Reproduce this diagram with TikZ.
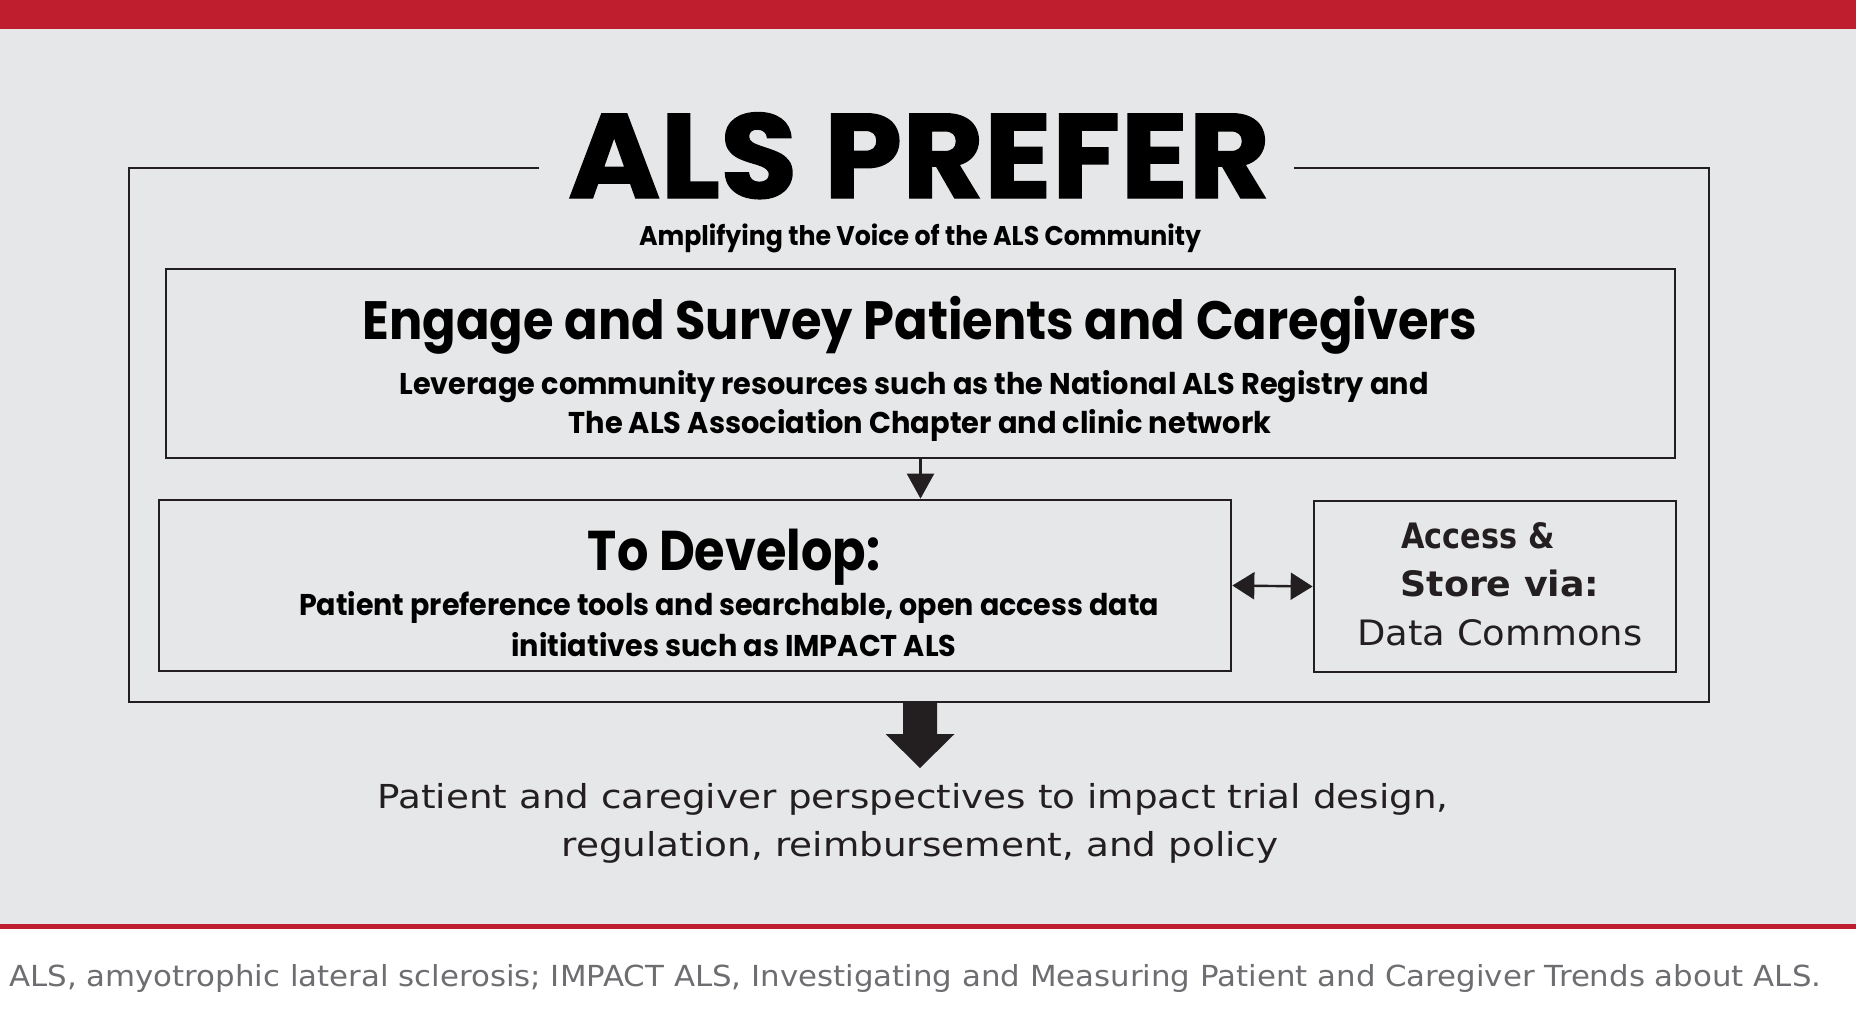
\documentclass[tikz,border=0pt]{standalone}
\usepackage{fontspec}
\usepackage{graphicx}
\usetikzlibrary{arrows.meta,calc}

\newfontfamily\geofont{Poppins}
\newfontfamily\heavyfont{Poppins}[BoldFeatures={FakeBold=1.2}]
\newfontfamily\humfont{DejaVu Sans}

\definecolor{alsred}{HTML}{BE1E2D}
\definecolor{panel}{HTML}{E6E7E8}
\definecolor{ink}{HTML}{231F20}
\definecolor{notegray}{HTML}{6D6E71}

% set a font size in pt (1pt = 1px in this picture)
\newcommand{\fs}[1]{\fontsize{#1pt}{#1pt}\selectfont}
% squeeze a line horizontally to a given width, keeping its height
\newcommand{\fitw}[2]{\resizebox{#1}{\height}{#2}}

\begin{document}
\begin{tikzpicture}[x=1pt,y=-1pt,
  frameline/.style={draw=ink,line width=2.7pt},
  stagebox/.style={draw=ink,line width=2.7pt,rectangle,inner sep=0pt},
  line/.style={inner sep=0pt,anchor=base,text=black},
  outline/.style={inner sep=0pt,anchor=base,text=ink},
  link/.style={draw=ink,line width=2.4pt},
  flowtip/.tip={Triangle[length=25pt,width=27pt]},
  sidetip/.tip={Triangle[length=22pt,width=27pt]},
]
\useasboundingbox (0,0) rectangle (1856,1009);

% page background: red band, grey panel, red rule, white footer
\fill[white] (0,0) rectangle (1856,1009);
\fill[panel] (0,29) rectangle (1856,924);
\fill[alsred] (0,0) rectangle (1856,29);
\fill[alsred] (0,924) rectangle (1856,929);

% title block
\node[line] (title) at (919,198)
  {\heavyfont\bfseries\fs{120}\fitw{702pt}{ALS PREFER}};
\node[line] (subtitle) at (920,245)
  {\geofont\bfseries\fs{27}\fitw{562pt}{Amplifying the Voice of the ALS Community}};

% outer frame, open where the title sits
\coordinate (gapL) at (539,168);
\coordinate (gapR) at (1294,168);
\coordinate (frameB) at (920,702);
\draw[frameline] (gapL) -- (129,168) -- (129,702) -- (1709,702) -- (1709,168) -- (gapR);

% stage boxes
\node[stagebox,minimum width=1509pt,minimum height=189pt] (engage) at (920.5,363.5) {};
\node[stagebox,minimum width=1072pt,minimum height=171pt] (develop) at (695,585.5) {};
\node[stagebox,minimum width=362pt,minimum height=171pt] (store) at (1495,586.5) {};

% engage box text
\node[line] (engageT) at (920,339)
  {\geofont\bfseries\fs{54}\fitw{1115pt}{Engage and Survey Patients and Caregivers}};
\node[line] (engageA) at (914,394)
  {\geofont\bfseries\fs{30}\fitw{1029pt}{Leverage community resources such as the National ALS Registry and}};
\node[line] (engageB) at (920,433)
  {\geofont\bfseries\fs{30}\fitw{703pt}{The ALS Association Chapter and clinic network}};

% develop box text
\node[line] (developT) at (734,570)
  {\geofont\bfseries\fs{56}\fitw{292pt}{To Develop:}};
\node[line] (developA) at (729,615)
  {\geofont\bfseries\fs{30}\fitw{860pt}{Patient preference tools and searchable, open access data}};
\node[line] (developB) at (734,656)
  {\geofont\bfseries\fs{30}\fitw{445pt}{initiatives such as IMPACT ALS}};

% store box text
\node[outline] (storeA) at (1478,548)
  {\humfont\bfseries\fs{35}\fitw{153pt}{Access \&}};
\node[outline] (storeB) at (1500,596)
  {\humfont\bfseries\fs{35}\fitw{199pt}{Store via:}};
\node[outline] (storeC) at (1500,645)
  {\humfont\fs{35}\fitw{285pt}{Data Commons}};

% connectors between stages
\draw[link,-flowtip] (engage.south) -- (engage.south |- develop.north);
\draw[link,sidetip-sidetip] (develop.east) -- (store.west);

% outcome
\node[outline] (outA) at (913,808)
  {\humfont\fs{33}\fitw{1071pt}{Patient and caregiver perspectives to impact trial design,}};
\node[outline] (outB) at (920,856)
  {\humfont\fs{33}\fitw{717pt}{regulation, reimbursement, and policy}};

% block arrow from the frame down to the outcome
\fill[ink] ($(frameB)+(-17,0)$) -- ($(frameB)+(17,0)$) -- ($(frameB)+(17,32)$)
  -- ($(frameB)+(34.5,32)$) -- ($(frameB)+(0,66)$) -- ($(frameB)+(-34.5,32)$)
  -- ($(frameB)+(-17,32)$) -- cycle;

% abbreviations
\node[inner sep=0pt,anchor=base west,text=notegray] (abbrev) at (9,986)
  {\humfont\fs{29}\fitw{1812pt}{ALS, amyotrophic lateral sclerosis; IMPACT ALS, Investigating and Measuring Patient and Caregiver Trends about ALS.}};
\end{tikzpicture}
\end{document}
